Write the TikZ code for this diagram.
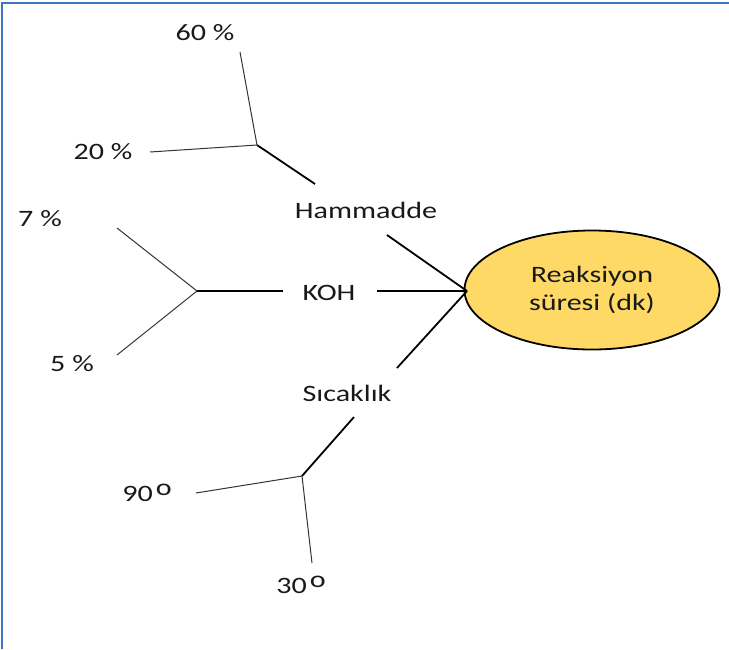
\documentclass[tikz,border=0pt]{standalone}
\usepackage{fontspec}
\setmainfont[FakeStretch=1.28]{Carlito}
\usepackage{tikz}
\usetikzlibrary{shapes,positioning}
\definecolor{frameblue}{RGB}{68,114,196}
\definecolor{goldfill}{RGB}{255,217,102}
\definecolor{txtgray}{RGB}{25,25,25}
\newcommand{\degval}[1]{#1\hspace{3pt}\raisebox{0.27em}{o}}
\tikzset{
  lbl/.style={inner sep=0pt, text=txtgray, font=\fontsize{23.5}{27}\selectfont},
  bone/.style={line width=1.8pt, black},
  twig/.style={line width=1pt, black!80},
}
\begin{document}
\begin{tikzpicture}[x=1pt,y=-1pt]
\useasboundingbox (0,0) rectangle (729,649);
\draw[frameblue, line width=1.2pt] (2,649) -- (2,3) -- (729,3);

\node[draw, ellipse, fill=goldfill, line width=1.8pt, minimum width=255pt, minimum height=119pt, inner sep=0pt,
  lbl, align=center] (Sure) at (592,290) {Reaksiyon\\[1pt]süresi (dk)};
\coordinate (Hub) at (467,291);

% main factors
\node[lbl] (Ham) at (366,210) {Hammadde};
\node[lbl] (Koh) at (329,293) {KOH};
\node[lbl] (Sic) at (347,393) {Sıcaklık};
\coordinate (HamIn) at (387,235);
\coordinate (KohIn) at (377,291);
\coordinate (SicIn) at (397,368);
\draw[bone] (HamIn) -- (Hub);
\draw[bone] (KohIn) -- (Hub);
\draw[bone] (SicIn) -- (Hub);

% Hammadde levels
\coordinate (HamOut) at (315,184);
\coordinate (HamJ) at (257,145);
\coordinate (H60) at (240,52);
\coordinate (H20) at (150,152);
\node[lbl] (L60) at (205,33) {60 \%};
\node[lbl] (L20) at (103,152) {20 \%};
\draw[bone] (HamOut) -- (HamJ);
\draw[twig] (HamJ) -- (H60);
\draw[twig] (HamJ) -- (H20);

% KOH levels
\coordinate (KohOut) at (283,291);
\coordinate (KohJ) at (197,291);
\coordinate (K7) at (117,228);
\coordinate (K5) at (117,355);
\node[lbl] (L7) at (40,219) {7 \%};
\node[lbl] (L5) at (72,364) {5 \%};
\draw[bone] (KohOut) -- (KohJ);
\draw[twig] (KohJ) -- (K7);
\draw[twig] (KohJ) -- (K5);

% Sicaklik levels
\coordinate (SicOut) at (354,417);
\coordinate (SicJ) at (302,476);
\coordinate (S90) at (196,493);
\coordinate (S30) at (312,563);
\node[lbl] (L90) at (147,493) {\degval{90}};
\node[lbl] (L30) at (301,585) {\degval{30}};
\draw[bone] (SicOut) -- (SicJ);
\draw[twig] (SicJ) -- (S90);
\draw[twig] (SicJ) -- (S30);
\end{tikzpicture}
\end{document}
